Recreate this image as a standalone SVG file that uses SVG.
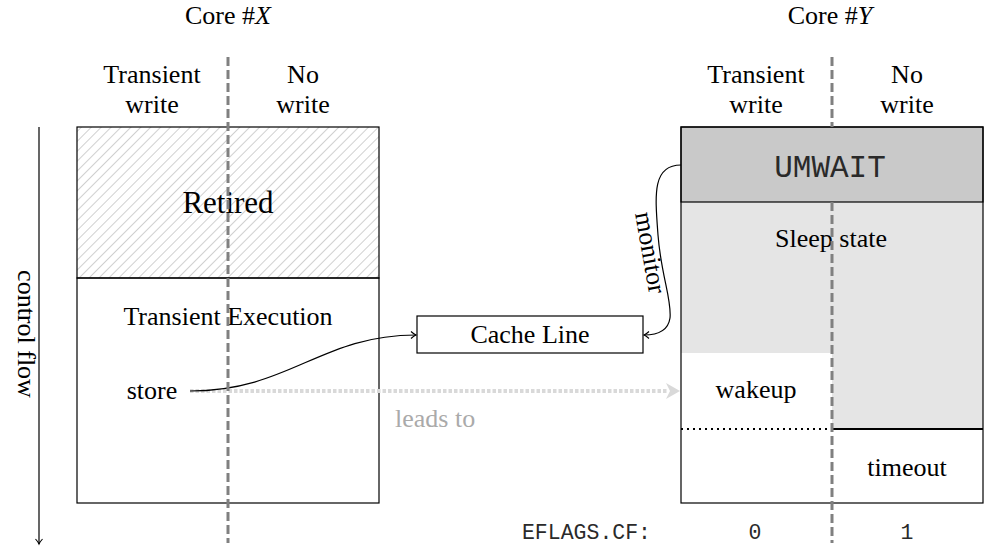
<svg xmlns="http://www.w3.org/2000/svg" width="1002" height="560" viewBox="0 0 1002 560">
<style>
  text { font-family: "Liberation Serif", "Times New Roman", serif; font-size: 26px; fill: #000; }
  .mono { font-family: "Liberation Mono", "Courier New", monospace; fill: #2a2a2a; }
  .big { font-size: 31px; }
  .small { font-size: 21.5px; }
  .mid { text-anchor: middle; }
  .end { text-anchor: end; }
  .box { fill: none; stroke: #000; stroke-width: 1.2; }
  .div { stroke: #808080; stroke-width: 3; stroke-dasharray: 9 4; fill: none; }
  .edge { fill: none; stroke: #000; stroke-width: 1.2; }
  .gray { fill: #aaaaaa; }
</style>
<defs>
  <pattern id="hatch" width="7" height="7" patternUnits="userSpaceOnUse" patternTransform="rotate(45)">
    <line x1="0" y1="0" x2="0" y2="7" stroke="#a8a8a8" stroke-width="1.1"/>
  </pattern>
  <marker id="arr" markerWidth="10" markerHeight="10" refX="8" refY="5" orient="auto" markerUnits="userSpaceOnUse">
    <path d="M3,1.5 Q6,4.2 8,5 Q6,5.8 3,8.5" fill="none" stroke="#000" stroke-width="1.1"/>
  </marker>
</defs>

<!-- headers -->
<g id="coreX">
  <text class="mid" x="228" y="24">Core #<tspan font-style="italic">X</tspan></text>
  <text class="mid" x="152" y="83">Transient</text>
  <text class="mid" x="152" y="113">write</text>
  <text class="mid" x="303" y="83">No</text>
  <text class="mid" x="303" y="113">write</text>
</g>
<g id="coreY">
  <text class="mid" x="830" y="24">Core #<tspan font-style="italic">Y</tspan></text>
  <text class="mid" x="756" y="83">Transient</text>
  <text class="mid" x="756" y="113">write</text>
  <text class="mid" x="907" y="83">No</text>
  <text class="mid" x="907" y="113">write</text>
</g>

<!-- control flow -->
<g id="controlflow">
  <line x1="39" y1="127" x2="39" y2="544" class="edge" marker-end="url(#arr)"/>
  <text class="mid" transform="translate(18,334) rotate(90)" x="0" y="0">control flow</text>
</g>

<!-- left box -->
<g id="retired">
  <rect x="77" y="127" width="302" height="151" fill="url(#hatch)" stroke="#000" stroke-width="1.2"/>
  <text class="mid big" x="228" y="213">Retired</text>
</g>
<g id="transient">
  <rect x="77" y="278" width="302" height="225" class="box"/>
  <text class="mid" x="228" y="325">Transient Execution</text>
  <text class="mid" x="152" y="399">store</text>
</g>

<!-- cache line -->
<g id="cacheline">
  <rect x="417" y="316" width="226" height="37" fill="#fff" stroke="#000" stroke-width="1.2"/>
  <text class="mid" x="530" y="343">Cache Line</text>
</g>

<!-- right box -->
<g id="sleep">
  <rect x="681" y="202" width="302" height="151" fill="#e5e5e5"/>
  <rect x="832" y="353" width="151" height="76" fill="#e5e5e5"/>
  <text class="mid" x="831" y="247">Sleep state</text>
</g>
<g id="umwait">
  <rect x="681" y="127" width="302" height="75" fill="#c9c9c9" stroke="#000" stroke-width="1.2"/>
  <text class="mid mono big" x="830" y="177">UMWAIT</text>
</g>
<g id="wakeup">
  <text class="mid" x="756" y="398">wakeup</text>
  <line x1="681" y1="429" x2="832" y2="429" stroke="#000" stroke-width="2" stroke-dasharray="2 4"/>
</g>
<g id="timeout">
  <line x1="832" y1="429" x2="983" y2="429" stroke="#000" stroke-width="2"/>
  <text class="mid" x="907" y="476">timeout</text>
</g>
<rect x="681" y="127" width="302" height="376" class="box"/>

<!-- EFLAGS -->
<g id="eflags">
  <text class="mono small end" x="651" y="539">EFLAGS.CF:</text>
  <text class="mono small mid" x="755" y="539">0</text>
  <text class="mono small mid" x="907" y="539">1</text>
</g>

<!-- connectors -->
<g id="connectors">
  <line x1="190" y1="391" x2="668" y2="391" stroke="#d9d9d9" stroke-width="4" stroke-dasharray="3.5 2"/>
  <path d="M666,383 L680,391 L666,399 L670,391 Z" fill="#d9d9d9"/>
  <text class="gray" x="395" y="427">leads to</text>
  <path d="M190,391 C290,391 320,335 416,335" class="edge" marker-end="url(#arr)"/>
  <path d="M681,165 C652,165 655,195 658,235 C661,275 672,300 670,318 C668,332 656,335 644,335" class="edge" marker-end="url(#arr)"/>
  <text class="mid" transform="translate(648,253) rotate(80)" x="0" y="6">monitor</text>
</g>

<!-- column dividers -->
<g id="dividers">
  <line x1="228" y1="57" x2="228" y2="543" class="div"/>
  <line x1="832" y1="57" x2="832" y2="127" class="div"/>
  <line x1="832" y1="202" x2="832" y2="543" class="div"/>
</g>
</svg>
